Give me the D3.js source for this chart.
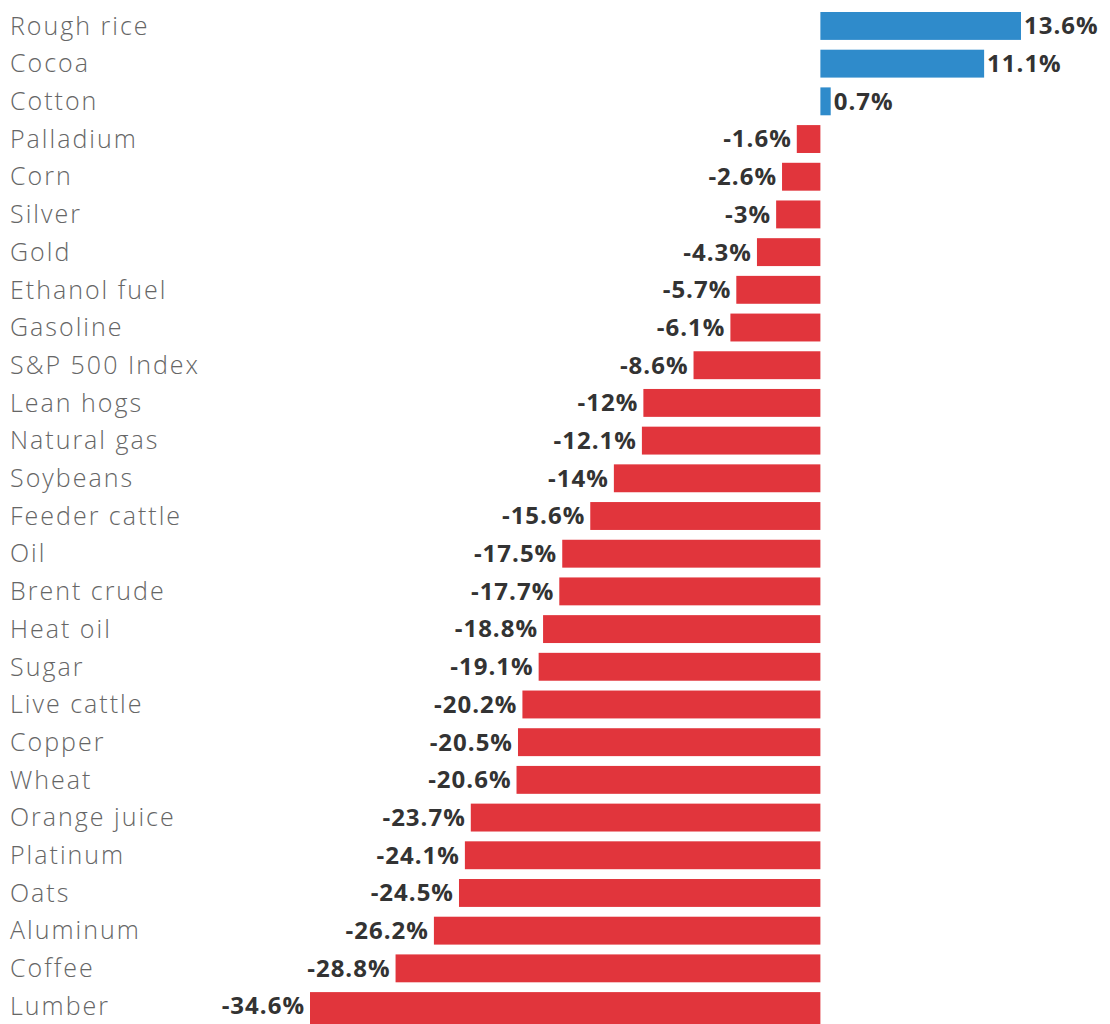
<!DOCTYPE html>
<html>
<head>
<meta charset="utf-8">
<script src="https://cdn.jsdelivr.net/npm/d3@7.9.0/dist/d3.min.js"></script>
<style>
  body { margin: 0; background: #fff; }
  svg { display: block; font-family: "Open Sans", sans-serif; }
</style>
</head>
<body>
<svg id="chart" width="1110" height="1024"></svg>
<script>
// Commodity names, top to bottom
const commodities = [
  'Rough rice', 'Cocoa', 'Cotton', 'Palladium', 'Corn', 'Silver', 'Gold',
  'Ethanol fuel', 'Gasoline', 'S&P 500 Index', 'Lean hogs', 'Natural gas',
  'Soybeans', 'Feeder cattle', 'Oil', 'Brent crude', 'Heat oil', 'Sugar',
  'Live cattle', 'Copper', 'Wheat', 'Orange juice', 'Platinum', 'Oats',
  'Aluminum', 'Coffee', 'Lumber'
];

// Percent change
const changes = [
  13.6, 11.1, 0.7, -1.6, -2.6, -3, -4.3,
  -5.7, -6.1, -8.6, -12, -12.1,
  -14, -15.6, -17.5, -17.7, -18.8, -19.1,
  -20.2, -20.5, -20.6, -23.7, -24.1, -24.5,
  -26.2, -28.8, -34.6
];

const rows = commodities.map((name, i) => ({ name, value: changes[i] }));

const svg = d3.select('#chart');

// x: zero line sits around x=821
const x = d3.scaleLinear().domain([-34.6, 13.6]).range([310, 1021]);

// y: one band per commodity
const y = d3.scaleBand()
  .domain(commodities)
  .range([12, 1020])
  .paddingInner(0.26)
  .paddingOuter(0);

const fmt = v => `${v}%`;

// Bars (last one runs off the bottom edge like the scan)
svg.append('g')
  .selectAll('rect')
  .data(rows)
  .join('rect')
  .attr('x', d => x(Math.min(0, d.value)))
  .attr('y', d => y(d.name))
  .attr('width', d => Math.abs(x(d.value) - x(0)))
  .attr('height', (d, i) => i === rows.length - 1 ? 1024 - y(d.name) : y.bandwidth())
  .attr('fill', d => d.value >= 0 ? '#2f8bcb' : '#e1353c');

// Category names on the left
svg.append('g')
  .selectAll('text')
  .data(rows)
  .join('text')
  .attr('x', 10)
  .attr('y', d => y(d.name) + y.bandwidth() / 2)
  .attr('dy', '0.35em')
  .attr('font-size', 25)
  .attr('font-weight', 300)
  .attr('letter-spacing', 2)
  .attr('fill', '#666')
  .text(d => d.name);

// Value labels next to bar ends
svg.append('g')
  .selectAll('text')
  .data(rows)
  .join('text')
  .attr('x', d => d.value >= 0 ? x(d.value) + 3 : x(d.value) - 5)
  .attr('y', d => y(d.name) + y.bandwidth() / 2)
  .attr('dy', '0.35em')
  .attr('text-anchor', d => d.value >= 0 ? 'start' : 'end')
  .attr('font-size', 24)
  .attr('font-weight', 700)
  .attr('letter-spacing', 1)
  .attr('fill', '#333')
  .text(d => fmt(d.value));
</script>
</body>
</html>
